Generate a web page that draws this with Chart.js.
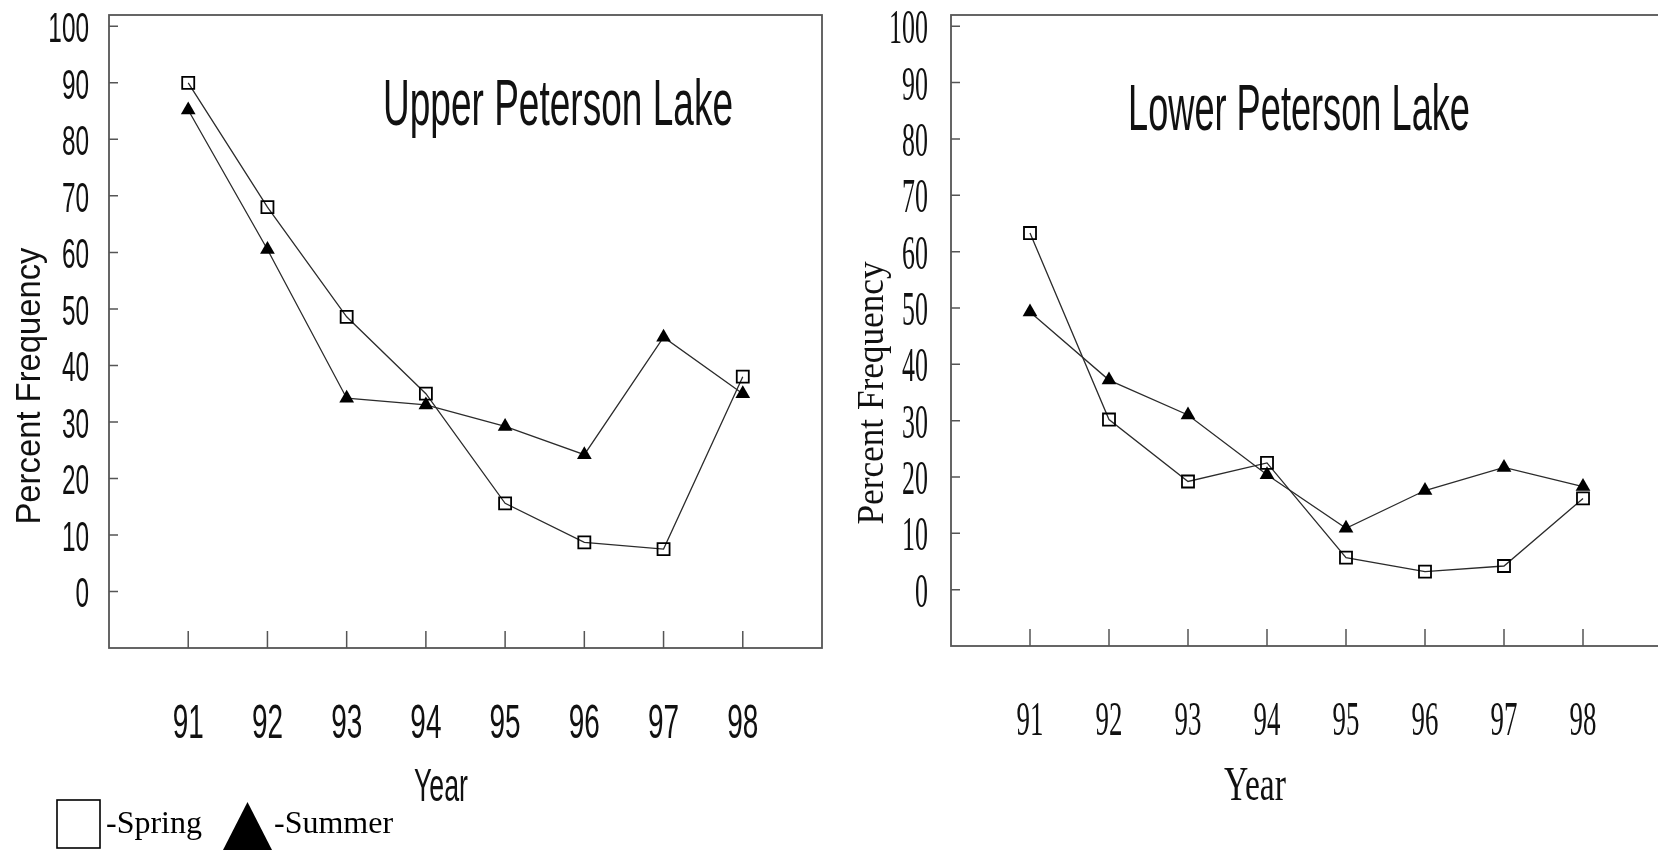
<!DOCTYPE html>
<html>
<head>
<meta charset="utf-8">
<script src="https://cdn.jsdelivr.net/npm/chart.js@4.4.1/dist/chart.umd.min.js"></script>
<style>
  html, body { margin: 0; padding: 0; background: #fff; overflow: hidden; width: 1658px; height: 853px; }
  canvas { position: absolute; top: 0; }
  #upperChart { left: 0; }
  #lowerChart { left: 835px; }
</style>
</head>
<body>
<canvas id="upperChart" width="835" height="853"></canvas>
<canvas id="lowerChart" width="840" height="853"></canvas>
<script>
// values
const years = [91, 92, 93, 94, 95, 96, 97, 98];
const yTicks = [0, 10, 20, 30, 40, 50, 60, 70, 80, 90, 100];
const upperSpring = [90, 68, 48.6, 35, 15.6, 8.7, 7.5, 38];
const upperSummer = [85.2, 60.5, 34.2, 33, 29.2, 24.2, 45, 35];
const lowerSpring = [63.3, 30.2, 19.2, 22.5, 5.7, 3.2, 4.2, 16.2];
const lowerSummer = [49.3, 37.2, 31, 20.4, 10.9, 17.6, 21.7, 18.3];

const SANS = '"Liberation Sans", Arial, sans-serif';
const SERIF = '"Liberation Serif", "Times New Roman", serif';

// draw text squeezed along its own direction (the scan is very condensed)
function squeezeText(ctx, text, x, y, font, sx, align, angle) {
    ctx.save();
    ctx.font = font;
    ctx.translate(x, y);
    if (angle) ctx.rotate(angle);
    ctx.scale(sx, 1);
    ctx.textAlign = align;
    ctx.textBaseline = 'alphabetic';
    ctx.fillStyle = '#111';
    ctx.fillText(text, 0, 0);
    ctx.restore();
}

function fitText(ctx, text, x, y, font, width, align, angle) {
    ctx.font = font;
    const sx = width / ctx.measureText(text).width;
    squeezeText(ctx, text, x, y, font, sx, align, angle);
}

function toPoints(values) {
    return years.map((yr, i) => ({ x: yr, y: values[i] }));
}

// frame, inward ticks, labels and titles
function panelPlugin(cfg) {
    return {
        id: 'panel',
        afterDraw(chart) {
            const ctx = chart.ctx;
            const area = chart.chartArea;
            const xs = chart.scales.x, ys = chart.scales.y;

            ctx.save();
            ctx.strokeStyle = '#555';
            ctx.lineWidth = 1.8;
            ctx.strokeRect(area.left, area.top, area.right - area.left, area.bottom - area.top);

            ctx.lineWidth = 1.5;
            ctx.beginPath();
            yTicks.forEach(v => {
                const py = ys.getPixelForValue(v);
                ctx.moveTo(area.left, py);
                ctx.lineTo(area.left + 9, py);
            });
            years.forEach(v => {
                const px = xs.getPixelForValue(v);
                ctx.moveTo(px, area.bottom);
                ctx.lineTo(px, area.bottom - 17);
            });
            ctx.stroke();
            ctx.restore();

            const yFont = cfg.yTickSize + 'px ' + cfg.tickFamily;
            yTicks.forEach(v => {
                squeezeText(ctx, String(v), cfg.yLabelRight, ys.getPixelForValue(v) + cfg.yLabelDrop,
                    yFont, cfg.yTickSx, 'right');
            });
            const xFont = cfg.xTickSize + 'px ' + cfg.tickFamily;
            years.forEach(v => {
                squeezeText(ctx, String(v), xs.getPixelForValue(v), cfg.xBaseline, xFont, cfg.xTickSx, 'center');
            });

            const t = cfg.title;
            fitText(ctx, t.text, t.x, t.y, t.size + 'px ' + t.family, t.width, 'left');
            const yt = cfg.yTitle;
            fitText(ctx, yt.text, yt.x, yt.y, yt.size + 'px ' + yt.family, yt.length, 'center', -Math.PI / 2);
            const xt = cfg.xTitle;
            fitText(ctx, xt.text, xt.x, xt.y, xt.size + 'px ' + xt.family, xt.width, 'center');

            if (cfg.legend) {
                ctx.save();
                ctx.strokeStyle = '#000';
                ctx.lineWidth = 1.6;
                ctx.strokeRect(57, 800, 43, 48);
                ctx.fillStyle = '#000';
                ctx.beginPath();
                ctx.moveTo(223, 850);
                ctx.lineTo(247.5, 802);
                ctx.lineTo(272, 850);
                ctx.closePath();
                ctx.fill();
                ctx.font = '32px ' + SERIF;
                ctx.textBaseline = 'alphabetic';
                ctx.fillText('-Spring', 106, 833);
                ctx.fillText('-Summer', 274, 833);
                ctx.restore();
            }
        }
    };
}

function makeChart(id, spring, summer, padding, cfg) {
    const ctx = document.getElementById(id).getContext('2d');
    return new Chart(ctx, {
        type: 'line',
        data: {
            datasets: [
                {
                    label: 'Spring',
                    data: toPoints(spring),
                    borderColor: '#2b2b2b',
                    borderWidth: 1.3,
                    pointStyle: 'rect',
                    pointRadius: 8.5,
                    pointBorderWidth: 1.8,
                    pointBorderColor: '#000',
                    pointBackgroundColor: 'rgba(0,0,0,0)',
                    tension: 0
                },
                {
                    label: 'Summer',
                    data: toPoints(summer),
                    borderColor: '#2b2b2b',
                    borderWidth: 1.3,
                    pointStyle: 'triangle',
                    pointRadius: 8.5,
                    pointBorderWidth: 0,
                    pointBorderColor: '#000',
                    pointBackgroundColor: '#000',
                    tension: 0
                }
            ]
        },
        options: {
            responsive: false,
            animation: false,
            events: [],
            layout: { padding: padding },
            plugins: {
                legend: { display: false },
                tooltip: { enabled: false }
            },
            scales: {
                x: { type: 'linear', min: 90, max: 99, display: false },
                y: { type: 'linear', min: -10, max: 102, display: false }
            }
        },
        plugins: [panelPlugin(cfg)]
    });
}

makeChart('upperChart', upperSpring, upperSummer,
    { left: 109, right: 13, top: 15, bottom: 205 },
    {
        tickFamily: SANS, yTickSize: 42, yTickSx: 0.58, yLabelRight: 89, yLabelDrop: 16,
        xTickSize: 49, xTickSx: 0.57, xBaseline: 738,
        title: { text: 'Upper Peterson Lake', x: 383, y: 125, size: 65, width: 350, family: SANS },
        yTitle: { text: 'Percent Frequency', x: 40, y: 386, size: 35, length: 277, family: SANS },
        xTitle: { text: 'Year', x: 441, y: 801, size: 46, width: 54, family: SANS },
        legend: true
    });

makeChart('lowerChart', lowerSpring, lowerSummer,
    { left: 116, right: 13, top: 15, bottom: 207 },
    {
        tickFamily: SERIF, yTickSize: 48, yTickSx: 0.54, yLabelRight: 93, yLabelDrop: 17,
        xTickSize: 48, xTickSx: 0.56, xBaseline: 735,
        title: { text: 'Lower Peterson Lake', x: 293, y: 130, size: 65, width: 342, family: SANS },
        yTitle: { text: 'Percent Frequency', x: 48, y: 393, size: 38, length: 263, family: SERIF },
        xTitle: { text: 'Year', x: 420, y: 800, size: 48, width: 62, family: SERIF },
        legend: false
    });
</script>
</body>
</html>
